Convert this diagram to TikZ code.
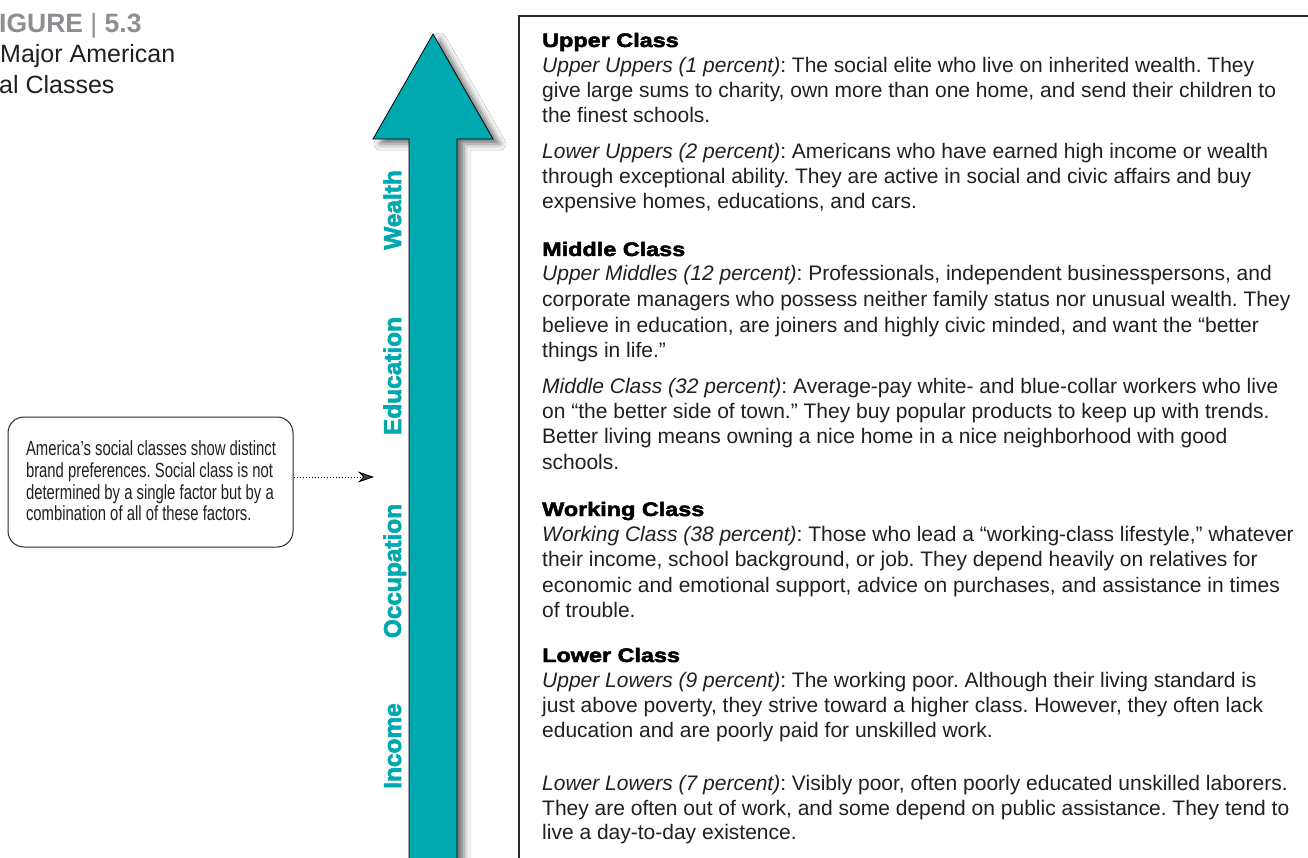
\documentclass[tikz,border=0pt]{standalone}
\usepackage{fontspec}
\setmainfont{Liberation Sans}
\newfontfamily\headfont[FakeStretch=1.2,FakeBold=2.5]{Liberation Sans Bold}
\newfontfamily\labfont[FakeBold=2.5]{Liberation Sans Bold}
\newfontfamily\condfont[FakeStretch=0.725]{Liberation Sans}
\usetikzlibrary{arrows.meta,shadows.blur}
\definecolor{teal1}{RGB}{0,168,176}
\definecolor{txt}{RGB}{35,31,32}
\definecolor{figgray}{RGB}{140,142,145}
\definecolor{boxline}{RGB}{40,40,40}
\tikzset{
  ln/.style={anchor=base west, inner sep=0pt, text=txt, font=\frenchspacing\fontsize{21}{25}\selectfont},
  hd/.style={anchor=base west, inner sep=0pt, text=black, font=\headfont\fontsize{19.5}{24}\selectfont},
  lab/.style={rotate=90, anchor=base, inner sep=0pt, text=teal1, font=\labfont\fontsize{24.4}{26}\selectfont},
  calloutbox/.style={draw=boxline, line width=1pt, rounded corners=16pt, minimum width=285pt, minimum height=130pt, inner sep=0pt},
  callouttext/.style={align=left, inner sep=0pt, text=txt, font=\frenchspacing\condfont\fontsize{20.5}{21.7}\selectfont},
}
\begin{document}
\begin{tikzpicture}[x=1pt,y=-1pt]
\useasboundingbox (0,0) rectangle (1308,858);
\clip (0,0) rectangle (1308,858);
\fill[white] (0,0) rectangle (1308,858);

% title
\node[anchor=base west, inner sep=0pt, text=figgray, font=\bfseries\fontsize{26.5}{30}\selectfont] (fig) at (-1,33) {IGURE \textmd{|} 5.3};
\node[anchor=base west, inner sep=0pt, text=txt, font=\fontsize{25}{30}\selectfont] (t1) at (0,63) {Major American};
\node[anchor=base west, inner sep=0pt, text=txt, font=\fontsize{25}{30}\selectfont] (t2) at (-1,94) {al Classes};

% big arrow
\path[fill=teal1, draw=black, line width=0.8pt,
  blur shadow={shadow xshift=7pt, shadow yshift=-5pt, shadow blur radius=6pt, shadow opacity=55}]
  (433,34) -- (493,139) -- (457,139) -- (457,880) -- (409,880) -- (409,139) -- (373,139) -- cycle;

\node[lab] (wealth) at (401,210) {Wealth};
\node[lab] (educ) at (401,376) {Education};
\node[lab] (occ) at (401,571) {Occupation};
\node[lab] (inc) at (401,746) {Income};

% callout
\node[calloutbox] (co) at (150.5,482) {};
\node[callouttext] (cotext) at (151,481) {America’s social classes show distinct\\brand preferences. Social class is not\\determined by a single factor but by a\\combination of all of these factors.};
\coordinate (tipc) at (374,477);
\draw[dotted, line width=1pt, -{Stealth[length=16pt,width=11pt]}] (co.east |- tipc) -- (tipc);

% text box
\draw[boxline, line width=1.5pt] (1330,16) -- (519,16) -- (519,880);

\node[hd] (h1) at (542,47) {Upper Class};
\node[ln] (l1) at (542,73) {\textit{Upper Uppers (1 percent)}: The social elite who live on inherited wealth. They};
\node[ln] (l2) at (542,98) {give large sums to charity, own more than one home, and send their children to};
\node[ln] (l3) at (542,123) {the finest schools.};
\node[ln] (l4) at (542,159) {\textit{Lower Uppers (2 percent)}: Americans who have earned high income or wealth};
\node[ln] (l5) at (542,184) {through exceptional ability. They are active in social and civic affairs and buy};
\node[ln] (l6) at (542,209) {expensive homes, educations, and cars.};

\node[hd] (h2) at (542,256) {Middle Class};
\node[ln] (l7) at (542,281) {\textit{Upper Middles (12 percent)}: Professionals, independent businesspersons, and};
\node[ln] (l8) at (542,307) {corporate managers who possess neither family status nor unusual wealth. They};
\node[ln] (l9) at (542,332) {believe in education, are joiners and highly civic minded, and want the “better};
\node[ln] (l10) at (542,357) {things in life.”};
\node[ln] (l11) at (542,393) {\textit{Middle Class (32 percent)}: Average-pay white- and blue-collar workers who live};
\node[ln] (l12) at (542,418) {on “the better side of town.” They buy popular products to keep up with trends.};
\node[ln] (l13) at (542,443) {Better living means owning a nice home in a nice neighborhood with good};
\node[ln] (l14) at (542,469) {schools.};

\node[hd] (h3) at (542,516) {Working Class};
\node[ln] (l15) at (542,541) {\textit{Working Class (38 percent)}: Those who lead a “working-class lifestyle,” whatever};
\node[ln] (l16) at (542,566) {their income, school background, or job. They depend heavily on relatives for};
\node[ln] (l17) at (542,592) {economic and emotional support, advice on purchases, and assistance in times};
\node[ln] (l18) at (542,617) {of trouble.};

\node[hd] (h4) at (542,662) {Lower Class};
\node[ln] (l19) at (542,687) {\textit{Upper Lowers (9 percent)}: The working poor. Although their living standard is};
\node[ln] (l20) at (542,712) {just above poverty, they strive toward a higher class. However, they often lack};
\node[ln] (l21) at (542,737) {education and are poorly paid for unskilled work.};
\node[ln] (l22) at (542,790) {\textit{Lower Lowers (7 percent)}: Visibly poor, often poorly educated unskilled laborers.};
\node[ln] (l23) at (542,815) {They are often out of work, and some depend on public assistance. They tend to};
\node[ln] (l24) at (542,839) {live a day-to-day existence.};
\end{tikzpicture}
\end{document}
